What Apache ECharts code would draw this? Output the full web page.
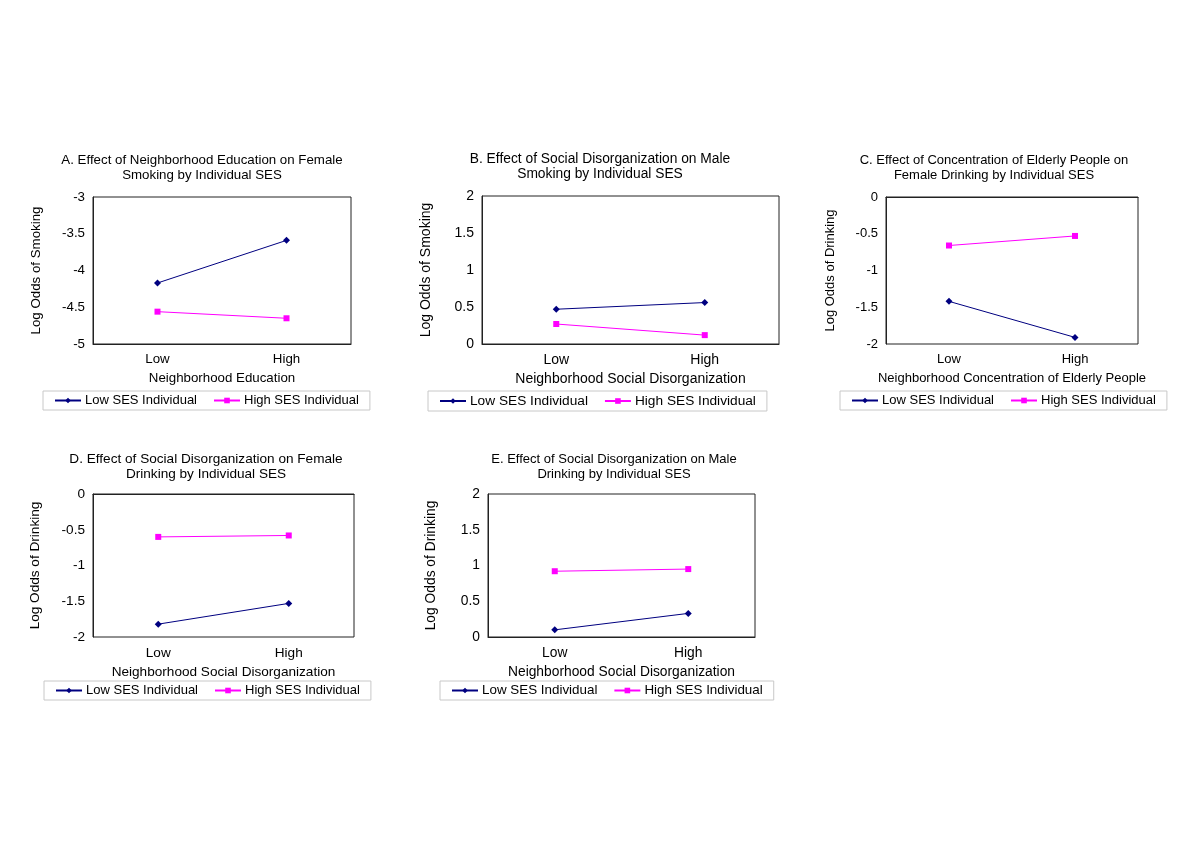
<!DOCTYPE html>
<html>
<head>
<meta charset="utf-8">
<script src="https://cdn.jsdelivr.net/npm/echarts@6/dist/echarts.min.js"></script>
<style>
html,body{margin:0;padding:0;background:#fff;}
#chart{width:1200px;height:849px;}
</style>
</head>
<body>
<div id="chart"></div>
<script>
// ---- data ----
const categories = ['Low', 'High'];
const seriesNames = ['Low SES Individual', 'High SES Individual'];
const panelTitles = [
  'A. Effect of Neighborhood Education on Female\nSmoking by Individual SES',
  'B. Effect of Social Disorganization on Male\nSmoking by Individual SES',
  'C. Effect of Concentration of Elderly People on\nFemale Drinking by Individual SES',
  'D. Effect of Social Disorganization on Female\nDrinking by Individual SES',
  'E. Effect of Social Disorganization on Male\nDrinking by Individual SES'
];
const xAxisNames = [
  'Neighborhood Education',
  'Neighborhood Social Disorganization',
  'Neighborhood Concentration of Elderly People',
  'Neighborhood Social Disorganization',
  'Neighborhood Social Disorganization'
];
const yAxisNames = [
  'Log Odds of Smoking',
  'Log Odds of Smoking',
  'Log Odds of Drinking',
  'Log Odds of Drinking',
  'Log Odds of Drinking'
];
const lowSES_A = [-4.17, -3.59];
const highSES_A = [-4.56, -4.65];
const lowSES_B = [0.47, 0.56];
const highSES_B = [0.27, 0.12];
const lowSES_C = [-1.42, -1.91];
const highSES_C = [-0.66, -0.53];
const lowSES_D = [-1.82, -1.53];
const highSES_D = [-0.60, -0.58];
const lowSES_E = [0.10, 0.33];
const highSES_E = [0.92, 0.95];
const yMin = [-5, 0, -2, -2, 0];
const yMax = [-3, 2, 0, 0, 2];
const yInterval = [0.5, 0.5, 0.5, 0.5, 0.5];

const lowSeries = [lowSES_A, lowSES_B, lowSES_C, lowSES_D, lowSES_E];
const highSeries = [highSES_A, highSES_B, highSES_C, highSES_D, highSES_E];

// ---- layout (pixels) ----
const layout = [
  {grid: {left: 93, top: 197, width: 258, height: 147}, titleX: 202, titleY: 153, legend: {left: 43, top: 391}, nameGap: 50, fs: {title: 13.3, axis: 13.3, legend: 13}},
  {grid: {left: 482, top: 196, width: 297, height: 148}, titleX: 600, titleY: 152, legend: {left: 428, top: 391}, nameGap: 49, fs: {title: 13.8, axis: 14, legend: 13.7}},
  {grid: {left: 886, top: 197, width: 252, height: 147}, titleX: 994, titleY: 153, legend: {left: 840, top: 391}, nameGap: 49, fs: {title: 13, axis: 13, legend: 13}},
  {grid: {left: 93, top: 494, width: 261, height: 143}, titleX: 206, titleY: 452, legend: {left: 44, top: 681}, nameGap: 51, fs: {title: 13.6, axis: 13.6, legend: 13}},
  {grid: {left: 488, top: 494, width: 267, height: 143}, titleX: 614, titleY: 452, legend: {left: 440, top: 681}, nameGap: 50, fs: {title: 13, axis: 13.8, legend: 13.4}}
];

const FONT = 'Liberation Sans, Arial, sans-serif';
const NAVY = '#000080';
const MAGENTA = '#FF00FF';

const option = {
  backgroundColor: '#fff',
  animation: false,
  textStyle: {fontFamily: FONT, color: '#000'},
  title: [], grid: [], xAxis: [], yAxis: [], legend: [], series: []
};

layout.forEach((L, i) => {
  option.title.push({
    text: panelTitles[i], left: L.titleX, top: L.titleY, textAlign: 'center', padding: 0,
    textStyle: {fontFamily: FONT, fontSize: L.fs.title, fontWeight: 'normal', color: '#000', lineHeight: 15}
  });
  option.grid.push(Object.assign({show: true, borderColor: '#222', borderWidth: 1, backgroundColor: '#fff', containLabel: false}, L.grid));
  option.xAxis.push({
    type: 'category', gridIndex: i, data: categories, boundaryGap: true,
    name: xAxisNames[i], nameLocation: 'middle', nameGap: 28,
    nameTextStyle: {fontFamily: FONT, fontSize: L.fs.axis, color: '#000'},
    axisLine: {show: true, lineStyle: {color: '#222', width: 1}},
    axisTick: {show: false},
    axisLabel: {fontFamily: FONT, fontSize: L.fs.axis, color: '#000', margin: 9},
    splitLine: {show: false}
  });
  option.yAxis.push({
    type: 'value', gridIndex: i, min: yMin[i], max: yMax[i], interval: yInterval[i],
    name: yAxisNames[i], nameLocation: 'middle', nameGap: L.nameGap, nameRotate: 90,
    nameTextStyle: {fontFamily: FONT, fontSize: L.fs.axis, color: '#000'},
    axisLine: {show: true, lineStyle: {color: '#222', width: 1}},
    axisTick: {show: false},
    axisLabel: {fontFamily: FONT, fontSize: L.fs.axis, color: '#000', margin: 8},
    splitLine: {show: false}
  });
  option.legend.push({
    left: L.legend.left, top: L.legend.top, orient: 'horizontal',
    data: seriesNames, itemWidth: 26, itemHeight: 7, itemGap: 16,
    padding: [3, 11, 3, 11], borderColor: '#c8c8c8', borderWidth: 1,
    textStyle: {fontFamily: FONT, fontSize: L.fs.legend, color: '#000', padding: [0, 0, 0, -1]},
    selectedMode: false
  });
  option.series.push({
    name: seriesNames[0], type: 'line', xAxisIndex: i, yAxisIndex: i,
    data: lowSeries[i], symbol: 'diamond', symbolSize: 7,
    lineStyle: {color: NAVY, width: 1}, itemStyle: {color: NAVY}
  });
  option.series.push({
    name: seriesNames[1], type: 'line', xAxisIndex: i, yAxisIndex: i,
    data: highSeries[i], symbol: 'rect', symbolSize: 6,
    lineStyle: {color: MAGENTA, width: 1}, itemStyle: {color: MAGENTA}
  });
});

const chart = echarts.init(document.getElementById('chart'), null, {renderer: 'canvas'});
chart.setOption(option);
</script>
</body>
</html>
